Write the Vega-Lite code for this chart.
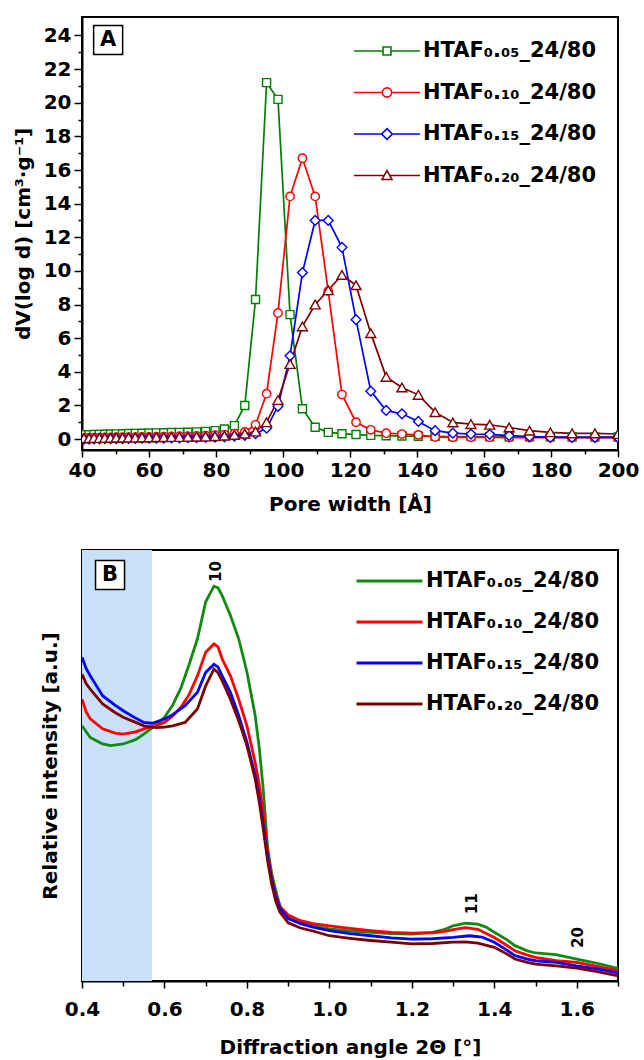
{
  "$schema": "https://vega.github.io/schema/vega-lite/v6.json",
  "background": "white",
  "padding": {"left": 12, "top": 16, "right": 0, "bottom": 0},
  "spacing": 34,
  "resolve": {"scale": {"color": "independent"}, "legend": {"color": "independent"}},
  "config": {
    "view": {"stroke": "black", "strokeWidth": 2},
    "axis": {"grid": false, "domainColor": "black", "domainWidth": 2, "tickColor": "black", "tickWidth": 1.5,
      "labelFont": "DejaVu Sans", "labelFontWeight": "bold", "labelFontSize": 20, "labelColor": "black",
      "titleFont": "DejaVu Sans", "titleFontWeight": "bold", "titleFontSize": 20, "titleColor": "black",
      "labelOverlap": false, "labelFlush": false, "labelBound": false},
    "legend": {"labelFont": "DejaVu Sans", "labelFontWeight": "bold", "labelFontSize": 21, "labelColor": "black", "labelLimit": 400}
  },
  "datasets": {
    "pore": [
      {"s":"0.05","w":40.6,"v":0.25},{"s":"0.05","w":42.1,"v":0.26},{"s":"0.05","w":43.6,"v":0.27},{"s":"0.05","w":45.2,"v":0.28},{"s":"0.05","w":46.8,"v":0.29},{"s":"0.05","w":48.5,"v":0.30},{"s":"0.05","w":50.2,"v":0.31},{"s":"0.05","w":52.1,"v":0.32},{"s":"0.05","w":53.9,"v":0.33},{"s":"0.05","w":55.9,"v":0.34},
      {"s":"0.05","w":57.9,"v":0.35},{"s":"0.05","w":60.0,"v":0.36},{"s":"0.05","w":62.2,"v":0.37},{"s":"0.05","w":64.4,"v":0.38},{"s":"0.05","w":66.7,"v":0.39},{"s":"0.05","w":69.1,"v":0.40},{"s":"0.05","w":71.6,"v":0.41},{"s":"0.05","w":74.2,"v":0.43},{"s":"0.05","w":76.9,"v":0.46},{"s":"0.05","w":79.7,"v":0.50},
      {"s":"0.05","w":82.5,"v":0.60},{"s":"0.05","w":85.5,"v":0.80},{"s":"0.05","w":88.6,"v":2.0},{"s":"0.05","w":91.8,"v":8.3},{"s":"0.05","w":95.1,"v":21.2},{"s":"0.05","w":98.5,"v":20.2},{"s":"0.05","w":102.1,"v":7.4},{"s":"0.05","w":105.8,"v":1.8},{"s":"0.05","w":109.6,"v":0.7},{"s":"0.05","w":113.5,"v":0.4},
      {"s":"0.05","w":117.6,"v":0.32},{"s":"0.05","w":121.8,"v":0.27},{"s":"0.05","w":126.2,"v":0.22},{"s":"0.05","w":130.8,"v":0.20},{"s":"0.05","w":135.5,"v":0.18},{"s":"0.05","w":140.4,"v":0.17},{"s":"0.05","w":145.4,"v":0.16},{"s":"0.05","w":150.7,"v":0.15},{"s":"0.05","w":156.1,"v":0.15},{"s":"0.05","w":161.7,"v":0.14},
      {"s":"0.05","w":167.5,"v":0.14},{"s":"0.05","w":173.6,"v":0.13},{"s":"0.05","w":179.8,"v":0.13},{"s":"0.05","w":186.3,"v":0.12},{"s":"0.05","w":193.1,"v":0.12},{"s":"0.05","w":200.0,"v":0.12},

      {"s":"0.10","w":40.6,"v":0.08},{"s":"0.10","w":42.1,"v":0.08},{"s":"0.10","w":43.6,"v":0.09},{"s":"0.10","w":45.2,"v":0.09},{"s":"0.10","w":46.8,"v":0.10},{"s":"0.10","w":48.5,"v":0.10},{"s":"0.10","w":50.2,"v":0.11},{"s":"0.10","w":52.1,"v":0.11},{"s":"0.10","w":53.9,"v":0.12},{"s":"0.10","w":55.9,"v":0.12},
      {"s":"0.10","w":57.9,"v":0.13},{"s":"0.10","w":60.0,"v":0.13},{"s":"0.10","w":62.2,"v":0.14},{"s":"0.10","w":64.4,"v":0.15},{"s":"0.10","w":66.7,"v":0.16},{"s":"0.10","w":69.1,"v":0.17},{"s":"0.10","w":71.6,"v":0.18},{"s":"0.10","w":74.2,"v":0.19},{"s":"0.10","w":76.9,"v":0.21},{"s":"0.10","w":79.7,"v":0.23},
      {"s":"0.10","w":82.5,"v":0.27},{"s":"0.10","w":85.5,"v":0.33},{"s":"0.10","w":88.6,"v":0.42},{"s":"0.10","w":91.8,"v":0.85},{"s":"0.10","w":95.1,"v":2.7},{"s":"0.10","w":98.5,"v":7.5},{"s":"0.10","w":102.1,"v":14.43},{"s":"0.10","w":105.8,"v":16.7},{"s":"0.10","w":109.6,"v":14.43},{"s":"0.10","w":113.5,"v":8.8},
      {"s":"0.10","w":117.6,"v":2.65},{"s":"0.10","w":121.8,"v":1.0},{"s":"0.10","w":126.2,"v":0.55},{"s":"0.10","w":130.8,"v":0.35},{"s":"0.10","w":135.5,"v":0.30},{"s":"0.10","w":140.4,"v":0.25},{"s":"0.10","w":145.4,"v":0.12},{"s":"0.10","w":150.7,"v":0.10},{"s":"0.10","w":156.1,"v":0.10},{"s":"0.10","w":161.7,"v":0.10},
      {"s":"0.10","w":167.5,"v":0.09},{"s":"0.10","w":173.6,"v":0.09},{"s":"0.10","w":179.8,"v":0.09},{"s":"0.10","w":186.3,"v":0.09},{"s":"0.10","w":193.1,"v":0.09},{"s":"0.10","w":200.0,"v":0.09},

      {"s":"0.15","w":40.6,"v":0.0},{"s":"0.15","w":42.1,"v":0.0},{"s":"0.15","w":43.6,"v":0.01},{"s":"0.15","w":45.2,"v":0.01},{"s":"0.15","w":46.8,"v":0.02},{"s":"0.15","w":48.5,"v":0.02},{"s":"0.15","w":50.2,"v":0.03},{"s":"0.15","w":52.1,"v":0.03},{"s":"0.15","w":53.9,"v":0.04},{"s":"0.15","w":55.9,"v":0.04},
      {"s":"0.15","w":57.9,"v":0.05},{"s":"0.15","w":60.0,"v":0.05},{"s":"0.15","w":62.2,"v":0.06},{"s":"0.15","w":64.4,"v":0.06},{"s":"0.15","w":66.7,"v":0.07},{"s":"0.15","w":69.1,"v":0.07},{"s":"0.15","w":71.6,"v":0.08},{"s":"0.15","w":74.2,"v":0.09},{"s":"0.15","w":76.9,"v":0.10},{"s":"0.15","w":79.7,"v":0.11},
      {"s":"0.15","w":82.5,"v":0.13},{"s":"0.15","w":85.5,"v":0.17},{"s":"0.15","w":88.6,"v":0.22},{"s":"0.15","w":91.8,"v":0.32},{"s":"0.15","w":95.1,"v":0.65},{"s":"0.15","w":98.5,"v":1.95},{"s":"0.15","w":102.1,"v":4.95},{"s":"0.15","w":105.8,"v":9.9},{"s":"0.15","w":109.6,"v":13.0},{"s":"0.15","w":113.5,"v":13.0},
      {"s":"0.15","w":117.6,"v":11.4},{"s":"0.15","w":121.8,"v":7.1},{"s":"0.15","w":126.2,"v":2.85},{"s":"0.15","w":130.8,"v":1.7},{"s":"0.15","w":135.5,"v":1.5},{"s":"0.15","w":140.4,"v":1.05},{"s":"0.15","w":145.4,"v":0.5},{"s":"0.15","w":150.7,"v":0.35},{"s":"0.15","w":156.1,"v":0.30},{"s":"0.15","w":161.7,"v":0.28},
      {"s":"0.15","w":167.5,"v":0.20},{"s":"0.15","w":173.6,"v":0.15},{"s":"0.15","w":179.8,"v":0.10},{"s":"0.15","w":186.3,"v":0.10},{"s":"0.15","w":193.1,"v":0.10},{"s":"0.15","w":200.0,"v":0.10},

      {"s":"0.20","w":40.6,"v":0.05},{"s":"0.20","w":42.1,"v":0.05},{"s":"0.20","w":43.6,"v":0.06},{"s":"0.20","w":45.2,"v":0.06},{"s":"0.20","w":46.8,"v":0.07},{"s":"0.20","w":48.5,"v":0.07},{"s":"0.20","w":50.2,"v":0.08},{"s":"0.20","w":52.1,"v":0.08},{"s":"0.20","w":53.9,"v":0.09},{"s":"0.20","w":55.9,"v":0.09},
      {"s":"0.20","w":57.9,"v":0.10},{"s":"0.20","w":60.0,"v":0.10},{"s":"0.20","w":62.2,"v":0.11},{"s":"0.20","w":64.4,"v":0.11},{"s":"0.20","w":66.7,"v":0.12},{"s":"0.20","w":69.1,"v":0.12},{"s":"0.20","w":71.6,"v":0.13},{"s":"0.20","w":74.2,"v":0.14},{"s":"0.20","w":76.9,"v":0.15},{"s":"0.20","w":79.7,"v":0.17},
      {"s":"0.20","w":82.5,"v":0.20},{"s":"0.20","w":85.5,"v":0.25},{"s":"0.20","w":88.6,"v":0.32},{"s":"0.20","w":91.8,"v":0.45},{"s":"0.20","w":95.1,"v":1.0},{"s":"0.20","w":98.5,"v":2.32},{"s":"0.20","w":102.1,"v":4.46},{"s":"0.20","w":105.8,"v":6.7},{"s":"0.20","w":109.6,"v":8.0},{"s":"0.20","w":113.5,"v":8.85},
      {"s":"0.20","w":117.6,"v":9.76},{"s":"0.20","w":121.8,"v":9.15},{"s":"0.20","w":126.2,"v":6.3},{"s":"0.20","w":130.8,"v":3.7},{"s":"0.20","w":135.5,"v":3.07},{"s":"0.20","w":140.4,"v":2.63},{"s":"0.20","w":145.4,"v":1.6},{"s":"0.20","w":150.7,"v":0.99},{"s":"0.20","w":156.1,"v":0.89},{"s":"0.20","w":161.7,"v":0.85},
      {"s":"0.20","w":167.5,"v":0.69},{"s":"0.20","w":173.6,"v":0.50},{"s":"0.20","w":179.8,"v":0.40},{"s":"0.20","w":186.3,"v":0.34},{"s":"0.20","w":193.1,"v":0.34},{"s":"0.20","w":200.0,"v":0.30}
    ],
    "xrd": [
      {"s":"0.05","a":0.40,"i":59.2},{"s":"0.05","a":0.42,"i":56.5},{"s":"0.05","a":0.45,"i":55.0},{"s":"0.05","a":0.47,"i":54.6},{"s":"0.05","a":0.50,"i":55.0},{"s":"0.05","a":0.53,"i":56.0},{"s":"0.05","a":0.55,"i":57.3},{"s":"0.05","a":0.58,"i":59.5},{"s":"0.05","a":0.60,"i":61.2},{"s":"0.05","a":0.62,"i":64.0},
      {"s":"0.05","a":0.64,"i":68.0},{"s":"0.05","a":0.66,"i":73.5},{"s":"0.05","a":0.68,"i":79.4},{"s":"0.05","a":0.70,"i":88.0},{"s":"0.05","a":0.72,"i":91.6},{"s":"0.05","a":0.73,"i":91.2},{"s":"0.05","a":0.74,"i":89.4},{"s":"0.05","a":0.76,"i":84.8},{"s":"0.05","a":0.78,"i":79.4},{"s":"0.05","a":0.80,"i":71.7},
      {"s":"0.05","a":0.82,"i":61.6},{"s":"0.05","a":0.83,"i":54.0},{"s":"0.05","a":0.84,"i":44.0},{"s":"0.05","a":0.85,"i":31.0},{"s":"0.05","a":0.86,"i":25.0},{"s":"0.05","a":0.87,"i":21.0},{"s":"0.05","a":0.88,"i":17.5},{"s":"0.05","a":0.89,"i":15.6},{"s":"0.05","a":0.91,"i":14.4},{"s":"0.05","a":0.96,"i":12.8},
      {"s":"0.05","a":1.00,"i":12.1},{"s":"0.05","a":1.05,"i":11.6},{"s":"0.05","a":1.10,"i":11.3},{"s":"0.05","a":1.15,"i":11.0},{"s":"0.05","a":1.20,"i":10.9},{"s":"0.05","a":1.25,"i":11.3},{"s":"0.05","a":1.28,"i":12.0},{"s":"0.05","a":1.30,"i":12.8},{"s":"0.05","a":1.33,"i":13.4},{"s":"0.05","a":1.36,"i":13.2},
      {"s":"0.05","a":1.38,"i":12.5},{"s":"0.05","a":1.40,"i":11.3},{"s":"0.05","a":1.43,"i":9.6},{"s":"0.05","a":1.45,"i":8.2},{"s":"0.05","a":1.48,"i":7.0},{"s":"0.05","a":1.50,"i":6.5},{"s":"0.05","a":1.55,"i":6.1},{"s":"0.05","a":1.60,"i":5.1},{"s":"0.05","a":1.65,"i":4.1},{"s":"0.05","a":1.70,"i":2.9},

      {"s":"0.10","a":0.40,"i":65.4},{"s":"0.10","a":0.41,"i":62.5},{"s":"0.10","a":0.42,"i":60.8},{"s":"0.10","a":0.45,"i":58.5},{"s":"0.10","a":0.48,"i":57.5},{"s":"0.10","a":0.50,"i":57.3},{"s":"0.10","a":0.53,"i":57.8},{"s":"0.10","a":0.55,"i":58.5},{"s":"0.10","a":0.58,"i":59.3},{"s":"0.10","a":0.60,"i":60.0},
      {"s":"0.10","a":0.62,"i":61.5},{"s":"0.10","a":0.64,"i":63.5},{"s":"0.10","a":0.66,"i":66.5},{"s":"0.10","a":0.68,"i":70.8},{"s":"0.10","a":0.70,"i":76.3},{"s":"0.10","a":0.72,"i":78.2},{"s":"0.10","a":0.73,"i":77.5},{"s":"0.10","a":0.74,"i":74.7},{"s":"0.10","a":0.76,"i":70.8},{"s":"0.10","a":0.78,"i":65.4},
      {"s":"0.10","a":0.80,"i":59.2},{"s":"0.10","a":0.82,"i":50.7},{"s":"0.10","a":0.83,"i":45.5},{"s":"0.10","a":0.84,"i":39.0},{"s":"0.10","a":0.85,"i":30.0},{"s":"0.10","a":0.86,"i":24.0},{"s":"0.10","a":0.87,"i":20.0},{"s":"0.10","a":0.88,"i":17.3},{"s":"0.10","a":0.90,"i":15.3},{"s":"0.10","a":0.93,"i":14.0},
      {"s":"0.10","a":0.96,"i":13.3},{"s":"0.10","a":1.00,"i":12.8},{"s":"0.10","a":1.05,"i":12.2},{"s":"0.10","a":1.10,"i":11.7},{"s":"0.10","a":1.15,"i":11.3},{"s":"0.10","a":1.20,"i":11.1},{"s":"0.10","a":1.25,"i":11.2},{"s":"0.10","a":1.28,"i":11.5},{"s":"0.10","a":1.30,"i":11.9},{"s":"0.10","a":1.33,"i":12.4},
      {"s":"0.10","a":1.36,"i":12.0},{"s":"0.10","a":1.40,"i":10.1},{"s":"0.10","a":1.43,"i":8.3},{"s":"0.10","a":1.45,"i":7.0},{"s":"0.10","a":1.48,"i":6.0},{"s":"0.10","a":1.50,"i":5.5},{"s":"0.10","a":1.55,"i":4.7},{"s":"0.10","a":1.60,"i":4.3},{"s":"0.10","a":1.65,"i":3.4},{"s":"0.10","a":1.70,"i":2.4},

      {"s":"0.15","a":0.40,"i":75.1},{"s":"0.15","a":0.41,"i":72.5},{"s":"0.15","a":0.42,"i":70.8},{"s":"0.15","a":0.45,"i":66.2},{"s":"0.15","a":0.48,"i":64.0},{"s":"0.15","a":0.50,"i":62.7},{"s":"0.15","a":0.53,"i":61.0},{"s":"0.15","a":0.55,"i":60.0},{"s":"0.15","a":0.57,"i":59.8},{"s":"0.15","a":0.60,"i":60.8},
      {"s":"0.15","a":0.62,"i":61.8},{"s":"0.15","a":0.65,"i":63.9},{"s":"0.15","a":0.68,"i":67.0},{"s":"0.15","a":0.70,"i":71.6},{"s":"0.15","a":0.72,"i":73.5},{"s":"0.15","a":0.73,"i":72.8},{"s":"0.15","a":0.74,"i":70.8},{"s":"0.15","a":0.76,"i":67.0},{"s":"0.15","a":0.78,"i":61.6},{"s":"0.15","a":0.80,"i":55.4},
      {"s":"0.15","a":0.82,"i":47.6},{"s":"0.15","a":0.83,"i":42.5},{"s":"0.15","a":0.84,"i":36.0},{"s":"0.15","a":0.85,"i":29.0},{"s":"0.15","a":0.86,"i":23.5},{"s":"0.15","a":0.87,"i":19.5},{"s":"0.15","a":0.88,"i":17.0},{"s":"0.15","a":0.90,"i":14.5},{"s":"0.15","a":0.93,"i":13.3},{"s":"0.15","a":0.96,"i":12.5},
      {"s":"0.15","a":1.00,"i":11.7},{"s":"0.15","a":1.05,"i":11.0},{"s":"0.15","a":1.10,"i":10.5},{"s":"0.15","a":1.15,"i":10.0},{"s":"0.15","a":1.20,"i":9.7},{"s":"0.15","a":1.25,"i":9.8},{"s":"0.15","a":1.30,"i":10.1},{"s":"0.15","a":1.34,"i":10.5},{"s":"0.15","a":1.37,"i":10.2},{"s":"0.15","a":1.40,"i":9.0},
      {"s":"0.15","a":1.43,"i":7.2},{"s":"0.15","a":1.45,"i":5.9},{"s":"0.15","a":1.48,"i":5.1},{"s":"0.15","a":1.50,"i":4.7},{"s":"0.15","a":1.55,"i":4.3},{"s":"0.15","a":1.60,"i":3.5},{"s":"0.15","a":1.65,"i":2.8},{"s":"0.15","a":1.70,"i":1.9},

      {"s":"0.20","a":0.40,"i":71.2},{"s":"0.20","a":0.41,"i":69.0},{"s":"0.20","a":0.42,"i":67.7},{"s":"0.20","a":0.45,"i":64.3},{"s":"0.20","a":0.48,"i":62.3},{"s":"0.20","a":0.50,"i":61.2},{"s":"0.20","a":0.53,"i":60.0},{"s":"0.20","a":0.55,"i":59.2},{"s":"0.20","a":0.58,"i":58.8},{"s":"0.20","a":0.60,"i":58.9},
      {"s":"0.20","a":0.62,"i":59.2},{"s":"0.20","a":0.65,"i":60.0},{"s":"0.20","a":0.68,"i":63.1},{"s":"0.20","a":0.70,"i":68.5},{"s":"0.20","a":0.72,"i":72.4},{"s":"0.20","a":0.73,"i":71.5},{"s":"0.20","a":0.74,"i":69.7},{"s":"0.20","a":0.76,"i":65.4},{"s":"0.20","a":0.78,"i":60.4},{"s":"0.20","a":0.80,"i":54.6},
      {"s":"0.20","a":0.82,"i":46.9},{"s":"0.20","a":0.83,"i":41.5},{"s":"0.20","a":0.84,"i":35.0},{"s":"0.20","a":0.85,"i":28.0},{"s":"0.20","a":0.86,"i":22.5},{"s":"0.20","a":0.87,"i":18.5},{"s":"0.20","a":0.88,"i":16.0},{"s":"0.20","a":0.90,"i":13.5},{"s":"0.20","a":0.93,"i":12.3},{"s":"0.20","a":0.96,"i":11.6},
      {"s":"0.20","a":1.00,"i":10.5},{"s":"0.20","a":1.05,"i":9.9},{"s":"0.20","a":1.10,"i":9.4},{"s":"0.20","a":1.15,"i":9.0},{"s":"0.20","a":1.20,"i":8.6},{"s":"0.20","a":1.25,"i":8.7},{"s":"0.20","a":1.30,"i":9.0},{"s":"0.20","a":1.33,"i":9.1},{"s":"0.20","a":1.36,"i":8.8},{"s":"0.20","a":1.40,"i":7.8},
      {"s":"0.20","a":1.43,"i":6.3},{"s":"0.20","a":1.45,"i":5.1},{"s":"0.20","a":1.48,"i":4.3},{"s":"0.20","a":1.50,"i":3.9},{"s":"0.20","a":1.55,"i":3.5},{"s":"0.20","a":1.60,"i":3.0},{"s":"0.20","a":1.65,"i":2.2},{"s":"0.20","a":1.70,"i":1.2}
    ],
    "tagA": [{"w": 47.8, "v": 23.73, "t": "A"}],
    "tagB": [{"a": 0.468, "i": 94.2, "t": "B"}],
    "band": [{"a": 0.4, "a2": 0.57}],
    "peaks": [{"a": 0.725, "i": 95, "t": "10"}, {"a": 1.345, "i": 17.9, "t": "11"}, {"a": 1.602, "i": 10.1, "t": "20"}]
  },
  "vconcat": [
    {
      "width": 536,
      "height": 433,
      "encoding": {
        "x": {"field": "w", "type": "quantitative", "scale": {"domain": [40, 200], "nice": false, "zero": false},
          "axis": {"title": "Pore width [Å]", "values": [40,50,60,70,80,90,100,110,120,130,140,150,160,170,180,190,200],
            "labelExpr": "datum.value % 20 === 0 ? datum.label : ''", "labelOverlap": false,
            "tickSize": {"condition": {"test": "datum.value % 20 !== 0", "value": 4}, "value": 7},
            "labelPadding": 3, "titlePadding": 14}},
        "y": {"field": "v", "type": "quantitative", "scale": {"domain": [-0.65, 25.1], "nice": false, "zero": false},
          "axis": {"title": "dV(log d) [cm³·g⁻¹]", "values": [0,1,2,3,4,5,6,7,8,9,10,11,12,13,14,15,16,17,18,19,20,21,22,23,24],
            "labelExpr": "datum.value % 2 === 0 ? datum.label : ''", "labelOverlap": false, "labelSeparation": 0,
            "tickSize": {"condition": {"test": "datum.value % 2 !== 0", "value": 4}, "value": 8},
            "labelPadding": 3, "titlePadding": 10}}
      },
      "layer": [
        {
          "data": {"name": "pore"},
          "mark": {"type": "line", "strokeWidth": 1.7, "clip": true},
          "encoding": {
            "color": {"field": "s", "type": "nominal", "scale": {"domain": ["0.05","0.10","0.15","0.20"], "range": ["#008000","#ff0000","#0000ff","#800000"]},
              "legend": {"title": null, "orient": "top-right", "offset": 21, "padding": 0, "symbolSize": 4356, "clipHeight": 26, "rowPadding": 15.5, "labelOffset": 2,
                "labelExpr": "'HTAF' + (datum.value === '0.05' ? '₀.₀₅' : datum.value === '0.10' ? '₀.₁₀' : datum.value === '0.15' ? '₀.₁₅' : '₀.₂₀') + '_24/80'",
                "encode": {"symbols": {"update": {
                  "fill": {"value": "white"}, "strokeWidth": {"value": 1.6}, "opacity": {"value": 1},
                  "shape": {"signal": "datum.value === '0.05' ? 'M-1,0H-0.12M0.12,0H1M-0.12,-0.12H0.12V0.12H-0.12Z' : datum.value === '0.10' ? 'M-1,0H-0.14M0.14,0H1M-0.14,0A0.14,0.14,0,1,1,0.14,0A0.14,0.14,0,1,1,-0.14,0Z' : datum.value === '0.15' ? 'M-1,0H-0.16M0.16,0H1M-0.16,0L0,-0.16L0.16,0L0,0.16Z' : 'M-1,0H-0.08M0.08,0H1M-0.15,0.12L0,-0.15L0.15,0.12Z'"}
                }}}}}
          }
        },
        {
          "data": {"name": "pore"},
          "transform": [{"filter": "datum.s === '0.05'"}],
          "mark": {"type": "point", "shape": "square", "filled": false, "fill": "white", "size": 64, "strokeWidth": 1.4, "opacity": 1, "clip": true},
          "encoding": {"color": {"field": "s", "type": "nominal", "legend": null}}
        },
        {
          "data": {"name": "pore"},
          "transform": [{"filter": "datum.s === '0.10'"}],
          "mark": {"type": "point", "shape": "circle", "filled": false, "fill": "white", "size": 70, "strokeWidth": 1.4, "opacity": 1, "clip": true},
          "encoding": {"color": {"field": "s", "type": "nominal", "legend": null}}
        },
        {
          "data": {"name": "pore"},
          "transform": [{"filter": "datum.s === '0.15'"}],
          "mark": {"type": "point", "shape": "diamond", "filled": false, "fill": "white", "size": 95, "strokeWidth": 1.4, "opacity": 1, "clip": true},
          "encoding": {"color": {"field": "s", "type": "nominal", "legend": null}}
        },
        {
          "data": {"name": "pore"},
          "transform": [{"filter": "datum.s === '0.20'"}],
          "mark": {"type": "point", "shape": "triangle-up", "filled": false, "fill": "white", "size": 100, "strokeWidth": 1.4, "opacity": 1, "clip": true},
          "encoding": {"color": {"field": "s", "type": "nominal", "legend": null}}
        },
        {
          "data": {"name": "tagA"},
          "mark": {"type": "point", "shape": "square", "size": 841, "filled": true, "fill": "white", "stroke": "black", "strokeWidth": 1.5, "opacity": 1}
        },
        {
          "data": {"name": "tagA"},
          "mark": {"type": "text", "font": "DejaVu Sans", "fontWeight": "bold", "fontSize": 21, "color": "black", "align": "center", "baseline": "middle"},
          "encoding": {"text": {"field": "t"}}
        }
      ]
    },
    {
      "width": 536,
      "height": 431,
      "layer": [
        {
          "data": {"name": "band"},
          "mark": {"type": "rect", "color": "#c8e1f9", "opacity": 1},
          "encoding": {
            "x": {"field": "a", "type": "quantitative", "scale": {"domain": [0.4, 1.7], "nice": false, "zero": false},
              "axis": {"title": "Diffraction angle 2Θ [°]", "values": [0.4,0.5,0.6,0.7,0.8,0.9,1.0,1.1,1.2,1.3,1.4,1.5,1.6,1.7],
                "labelExpr": "round(datum.value * 10) % 2 === 0 ? format(datum.value, '.1f') : ''", "labelOverlap": false,
                "tickSize": {"condition": {"test": "round(datum.value * 10) % 2 !== 0", "value": 5}, "value": 7},
                "labelPadding": 11, "titlePadding": 18}},
            "x2": {"field": "a2"}
          }
        },
        {
          "data": {"name": "xrd"},
          "mark": {"type": "line", "strokeWidth": 2.8, "clip": true},
          "encoding": {
            "x": {"field": "a", "type": "quantitative"},
            "y": {"field": "i", "type": "quantitative", "scale": {"domain": [0, 100], "nice": false, "zero": false},
              "axis": {"title": "Relative intensity [a.u.]", "labels": false, "ticks": false, "titlePadding": 22}},
            "color": {"field": "s", "type": "nominal", "scale": {"domain": ["0.05","0.10","0.15","0.20"], "range": ["#128a12","#ff0000","#0000ff","#7b0000"]},
              "legend": {"title": null, "orient": "top-right", "offset": 18, "padding": 0, "symbolType": "stroke", "symbolSize": 4356, "symbolStrokeWidth": 3, "clipHeight": 26, "rowPadding": 15, "labelOffset": 2,
                "labelExpr": "'HTAF' + (datum.value === '0.05' ? '₀.₀₅' : datum.value === '0.10' ? '₀.₁₀' : datum.value === '0.15' ? '₀.₁₅' : '₀.₂₀') + '_24/80'"}}
          }
        },
        {
          "data": {"name": "peaks"},
          "mark": {"type": "text", "font": "DejaVu Sans", "fontWeight": "bold", "fontSize": 15, "color": "black", "angle": 270, "align": "center", "baseline": "middle"},
          "encoding": {"x": {"field": "a", "type": "quantitative"}, "y": {"field": "i", "type": "quantitative"}, "text": {"field": "t"}}
        },
        {
          "data": {"name": "tagB"},
          "mark": {"type": "point", "shape": "square", "size": 841, "filled": true, "fill": "white", "stroke": "black", "strokeWidth": 1.5, "opacity": 1},
          "encoding": {"x": {"field": "a", "type": "quantitative"}, "y": {"field": "i", "type": "quantitative"}}
        },
        {
          "data": {"name": "tagB"},
          "mark": {"type": "text", "font": "DejaVu Sans", "fontWeight": "bold", "fontSize": 21, "color": "black", "align": "center", "baseline": "middle"},
          "encoding": {"x": {"field": "a", "type": "quantitative"}, "y": {"field": "i", "type": "quantitative"}, "text": {"field": "t"}}
        }
      ]
    }
  ]
}
